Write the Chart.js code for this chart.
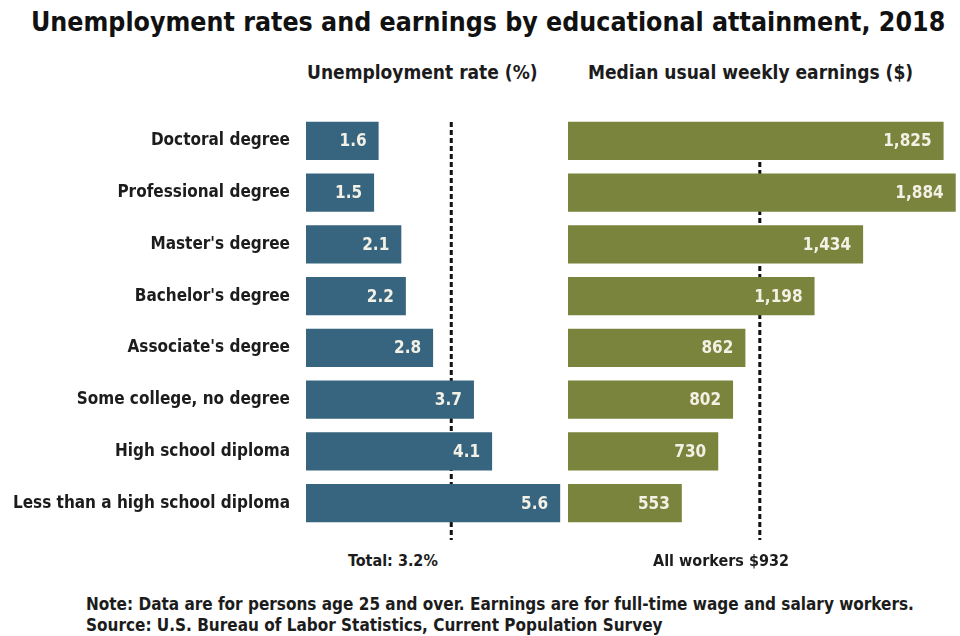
<!DOCTYPE html>
<html>
<head>
<meta charset="utf-8">
<script src="https://cdn.jsdelivr.net/npm/chart.js@4.4.0/dist/chart.umd.min.js"></script>
<style>
  body { margin: 0; background: #fff; }
  #wrap {
    position: relative; width: 960px; height: 636px; overflow: hidden;
    font-family: "DejaVu Sans Condensed", "DejaVu Sans", sans-serif;
    font-weight: bold; color: #1c1c1c;
  }
  .txt { position: absolute; white-space: nowrap; line-height: 1; }
  canvas { position: absolute; }
</style>
</head>
<body>
<div id="wrap">
  <div class="txt" style="left:31px;top:9px;font-size:26.5px;color:#111;">Unemployment rates and earnings by educational attainment, 2018</div>
  <div class="txt" style="left:307px;top:63px;font-size:19px;">Unemployment rate (%)</div>
  <div class="txt" style="left:588px;top:63px;font-size:19px;">Median usual weekly earnings ($)</div>

  <canvas id="rateChart" style="left:0;top:105px;"></canvas>
  <canvas id="earnChart" style="left:566px;top:105px;"></canvas>

  <div class="txt" style="left:348px;top:553px;font-size:16px;">Total: 3.2%</div>
  <div class="txt" style="left:653px;top:553px;font-size:16px;">All workers $932</div>

  <div class="txt" style="left:86px;top:596px;font-size:17px;">Note: Data are for persons age 25 and over. Earnings are for full-time wage and salary workers.</div>
  <div class="txt" style="left:86px;top:617px;font-size:17px;">Source: U.S. Bureau of Labor Statistics, Current Population Survey</div>
</div>

<script>
const categories = [
  "Doctoral degree",
  "Professional degree",
  "Master's degree",
  "Bachelor's degree",
  "Associate's degree",
  "Some college, no degree",
  "High school diploma",
  "Less than a high school diploma"
];
const unemploymentRate = [1.6, 1.5, 2.1, 2.2, 2.8, 3.7, 4.1, 5.6];
const weeklyEarnings = [1825, 1884, 1434, 1198, 862, 802, 730, 553];
const totalRate = 3.2;
const allWorkersEarnings = 932;

const FONT = '"DejaVu Sans Condensed", "DejaVu Sans", sans-serif';

// dotted reference line behind the bars
const refLine = {
  id: 'refLine',
  beforeDatasetsDraw(chart, args, opts) {
    const ctx = chart.ctx;
    const x = chart.scales.x.getPixelForValue(opts.value);
    ctx.save();
    ctx.strokeStyle = '#111';
    ctx.lineWidth = 3;
    ctx.setLineDash([5, 3]);
    ctx.beginPath();
    ctx.moveTo(x, chart.chartArea.top + 7);
    ctx.lineTo(x, chart.chartArea.bottom + 11);
    ctx.stroke();
    ctx.restore();
  }
};

// value printed inside the end of each bar
const barValues = {
  id: 'barValues',
  afterDatasetsDraw(chart, args, opts) {
    const ctx = chart.ctx;
    const ds = chart.data.datasets[0];
    ctx.save();
    ctx.font = 'bold 17px ' + FONT;
    ctx.fillStyle = '#f3f1e6';
    ctx.textAlign = 'right';
    ctx.textBaseline = 'middle';
    chart.getDatasetMeta(0).data.forEach((bar, i) => {
      ctx.fillText(opts.format(ds.data[i]), bar.x - 12, bar.y + 1);
    });
    ctx.restore();
  }
};

function barChart(id, w, values, color, max, axisWidth, line, format, padding) {
  const el = document.getElementById(id);
  el.width = w;
  el.height = 445;
  el.style.width = w + 'px';
  el.style.height = '445px';
  return new Chart(el, {
    type: 'bar',
    data: {
      labels: categories,
      datasets: [{
        data: values,
        backgroundColor: color,
        barPercentage: 0.735,
        categoryPercentage: 1
      }]
    },
    options: {
      indexAxis: 'y',
      responsive: false,
      animation: false,
      layout: { padding: padding },
      scales: {
        x: { display: false, min: 0, max: max },
        y: {
          display: axisWidth > 0,
          grid: { display: false, drawTicks: false },
          border: { display: false },
          ticks: {
            padding: 16,
            color: '#1c1c1c',
            font: { family: FONT, size: 17, weight: 'bold' }
          },
          afterFit(scale) {
            scale.width = axisWidth;
            scale.paddingTop = 0;
            scale.paddingBottom = 0;
          }
        }
      },
      plugins: {
        legend: { display: false },
        tooltip: { enabled: false },
        refLine: { value: line },
        barValues: { format: format }
      }
    },
    plugins: [refLine, barValues]
  });
}

barChart('rateChart', 567, unemploymentRate, '#37647f', 5.75, 306, totalRate,
  v => v.toFixed(1), { top: 10, bottom: 21, left: 0, right: 0 });
barChart('earnChart', 394, weeklyEarnings, '#7a843c', 1895, 0, allWorkersEarnings,
  v => v.toLocaleString('en-US'), { top: 10, bottom: 21, left: 2, right: 2 });
</script>
</body>
</html>
